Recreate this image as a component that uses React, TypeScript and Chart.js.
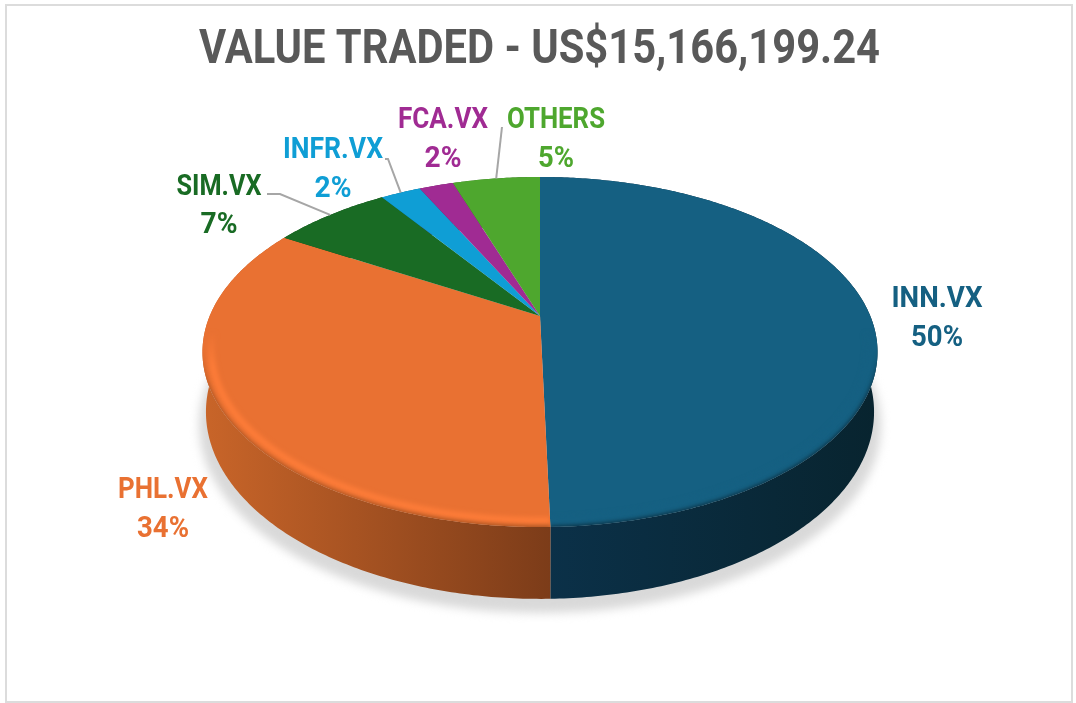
import React, { useEffect, useRef } from "react";
import { Chart, registerables } from "chart.js";

Chart.register(...registerables);

const titleText = "VALUE TRADED - US$15,166,199.24";
const categories = ["INN.VX", "PHL.VX", "SIM.VX", "INFR.VX", "FCA.VX", "OTHERS"];
const values = [49.6, 34.03, 6.91, 2.36, 2.0, 5.1];
const percentLabels = ["50%", "34%", "7%", "2%", "2%", "5%"];
const faceColors = ["#156082", "#E97132", "#196B24", "#0F9ED5", "#A02B93", "#4EA72E"];
const sideStart = ["#0b3149", "#c96529", "#124d1a", "#0b6f96", "#701e67", "#377520"];
const sideEnd = ["#08242f", "#7c3c19", "#0f4016", "#095c7d", "#5d1955", "#2d611a"];
const rimEdge = ["#0a2a3a", "#9c4f20", "#124d1a", "#0b6f96", "#701e67", "#377520"];
const rimLight = ["#156082", "#ff7d39", "#196B24", "#0F9ED5", "#A02B93", "#4EA72E"];

// label layout: centre x, first baseline, second baseline, fitted text widths
const labelX = [937, 163, 219, 333, 443, 556];
const labelY1 = [307, 498, 195, 158, 128, 128];
const labelY2 = [346, 537, 233, 197, 167, 167];
const nameWidth = [91, 90, 85, 100, 90, 98];
const percentWidth = [52, 52, 37, 37, 37, 36];
// leader line starts (null = no leader)
const leaderStart: ([number, number][] | null)[] = [
  null,
  null,
  [[267, 194], [280, 194]],
  [[385, 159], [388, 159]],
  null,
  [[502, 127]],
];

const TILT = 0.2058;
const TOP_R = 330.3;
const TOP_S = 167.6;
const BOT_R = 326.9;
const BOT_S = 179;
const BOT_DY = 57.5;
const LABEL_FONT = 'bold 29px Roboto, sans-serif';
const TITLE_FONT = 'bold 49px Roboto, sans-serif';

const project = (a: number, cx: number, cy: number, R: number, S: number, k = 1): [number, number] => {
  const u = Math.sin(a) * k;
  const v = Math.cos(a) * k;
  const w = 1 + TILT * v;
  return [cx + (R * u) / w, cy - (S * v) / w];
};

const samples = (a0: number, a1: number) => {
  const n = Math.max(2, Math.ceil(Math.abs(a1 - a0) * 90));
  const out: number[] = [];
  for (let i = 0; i <= n; i++) out.push(a0 + ((a1 - a0) * i) / n);
  return out;
};

const pie3d = {
  id: "pie3d",
  beforeDraw(chart: any) {
    const { ctx } = chart;
    ctx.save();
    ctx.strokeStyle = "#dcdcdc";
    ctx.lineWidth = 2;
    ctx.strokeRect(6, 5, 1066, 697);
    ctx.fillStyle = "#595959";
    ctx.font = TITLE_FONT;
    ctx.textAlign = "center";
    ctx.textBaseline = "alphabetic";
    ctx.fillText(titleText, 539.5, 63, 681);
    ctx.restore();
  },
  beforeDatasetsDraw(chart: any) {
    const { ctx } = chart;
    const arcs = chart.getDatasetMeta(0).data;
    const cx = arcs[0].x;
    const cy = arcs[0].y;
    const range = arcs.map((el: any) => [el.startAngle + Math.PI / 2, el.endAngle + Math.PI / 2]);

    // ground shadow
    ctx.save();
    ctx.filter = "blur(5px)";
    ctx.fillStyle = "#d9d9d9";
    ctx.beginPath();
    ctx.ellipse(cx, cy + 109, 341, 188, 0, 0, Math.PI * 2);
    ctx.fill();
    ctx.restore();

    // side walls
    arcs.forEach((_: any, i: number) => {
      const [a0, a1] = range[i];
      const pts = samples(a0, a1);
      const top = pts.map((a) => project(a, cx, cy, TOP_R, TOP_S));
      const bot = pts.map((a) => project(a, cx, cy + BOT_DY, BOT_R, BOT_S));
      const xs = top.concat(bot).map((p) => p[0]);
      const g = ctx.createLinearGradient(Math.min(...xs), 0, Math.max(...xs), 0);
      g.addColorStop(0, sideStart[i]);
      g.addColorStop(1, sideEnd[i]);
      ctx.fillStyle = g;
      ctx.beginPath();
      top.forEach((p, k) => (k ? ctx.lineTo(p[0], p[1]) : ctx.moveTo(p[0], p[1])));
      bot.reverse().forEach((p) => ctx.lineTo(p[0], p[1]));
      ctx.closePath();
      ctx.fill();
    });

    // top faces with soft bevel
    arcs.forEach((_: any, i: number) => {
      const [a0, a1] = range[i];
      const pts = samples(a0, a1);
      const face = new Path2D();
      face.moveTo(cx, cy);
      pts.forEach((a) => {
        const p = project(a, cx, cy, TOP_R, TOP_S);
        face.lineTo(p[0], p[1]);
      });
      face.closePath();
      ctx.fillStyle = faceColors[i];
      ctx.fill(face);

      const ring = (k: number) => {
        const r = new Path2D();
        pts.forEach((a, n) => {
          const p = project(a, cx, cy, TOP_R, TOP_S, k);
          if (n) r.lineTo(p[0], p[1]);
          else r.moveTo(p[0], p[1]);
        });
        return r;
      };
      const mask = (color: string, from: number, to: number) => {
        const g = ctx.createLinearGradient(0, cy + from, 0, cy + to);
        g.addColorStop(0, color + "00");
        g.addColorStop(1, color + "ff");
        return g;
      };
      ctx.save();
      ctx.clip(face);
      ctx.lineCap = "butt";
      ctx.filter = "blur(2.5px)";
      ctx.strokeStyle = mask(rimLight[i], 15, 50);
      ctx.lineWidth = 6;
      ctx.stroke(ring(0.975));
      ctx.filter = "blur(2px)";
      ctx.strokeStyle = mask(rimEdge[i], 35, 75);
      ctx.lineWidth = 4;
      ctx.stroke(ring(1.004));
      ctx.restore();
    });

    // leader lines, from the label to the rim at each slice's middle
    ctx.save();
    ctx.strokeStyle = "#a6a6a6";
    ctx.lineWidth = 2;
    leaderStart.forEach((start, i) => {
      if (!start) return;
      const mid = (range[i][0] + range[i][1]) / 2;
      const end = project(mid, cx, cy, TOP_R, TOP_S);
      ctx.beginPath();
      start.forEach((p, k) => (k ? ctx.lineTo(p[0], p[1]) : ctx.moveTo(p[0], p[1])));
      ctx.lineTo(end[0], end[1]);
      ctx.stroke();
    });
    ctx.restore();

    // data labels
    ctx.save();
    ctx.font = LABEL_FONT;
    ctx.textAlign = "center";
    ctx.textBaseline = "alphabetic";
    categories.forEach((name, i) => {
      ctx.fillStyle = faceColors[i];
      ctx.fillText(name, labelX[i], labelY1[i], nameWidth[i]);
      ctx.fillText(percentLabels[i], labelX[i], labelY2[i], percentWidth[i]);
    });
    ctx.restore();
    return false;
  },
};

export default function App() {
  const ref = useRef<HTMLCanvasElement | null>(null);
  useEffect(() => {
    if (!ref.current) return;
    const chart = new Chart(ref.current, {
      type: "pie",
      data: {
        labels: categories,
        datasets: [{ data: values, backgroundColor: faceColors, borderWidth: 0 }],
      },
      options: {
        responsive: false,
        animation: false,
        layout: { padding: { top: 75, bottom: 146, left: 4, right: 0 } },
        plugins: {
          legend: { display: false },
          tooltip: { enabled: false },
          title: { display: false, text: titleText },
        },
      },
      plugins: [pie3d],
    } as any);
    return () => chart.destroy();
  }, []);
  return (
    <div style={{ position: "absolute", left: 0, top: 0, width: 1076, height: 703 }}>
      <canvas ref={ref} width={1076} height={703} style={{ display: "block" }} />
    </div>
  );
}
